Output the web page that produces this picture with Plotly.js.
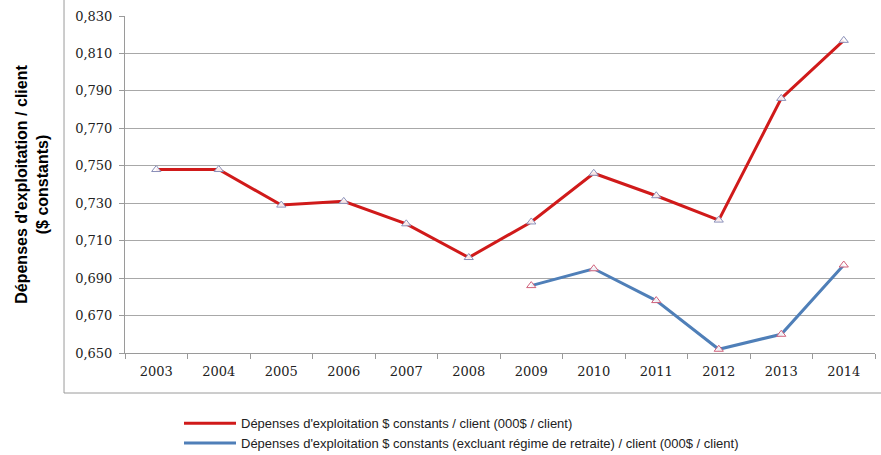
<!DOCTYPE html>
<html>
<head>
<meta charset="utf-8">
<script src="https://cdn.plot.ly/plotly-3.0.1.min.js"></script>
<style>html,body{margin:0;padding:0;background:#fff;}#chart{width:881px;height:455px;}</style>
</head>
<body>
<div id="chart"></div>
<script>
const years = ['2003','2004','2005','2006','2007','2008','2009','2010','2011','2012','2013','2014'];
const depensesTotal = [0.748, 0.748, 0.729, 0.731, 0.719, 0.701, 0.720, 0.746, 0.734, 0.721, 0.786, 0.817];
const depensesHorsRetraite = [null, null, null, null, null, null, 0.686, 0.695, 0.678, 0.652, 0.660, 0.697];
const seriesNames = [
  "Dépenses d'exploitation $ constants / client (000$ / client)",
  "Dépenses d'exploitation $ constants (excluant régime de retraite) / client (000$ / client)"
];
const yTitle = "Dépenses d'exploitation / client<br>($ constants)";

const lineColors = ['#d01a1a', '#4f7fb8'];
const markerEdge = ['#8a8fb8', '#d0607a'];
const seriesData = [depensesTotal, depensesHorsRetraite];

const traces = [];
seriesData.forEach((vals, i) => {
  traces.push({
    x: years, y: vals, name: seriesNames[i], type: 'scatter', mode: 'lines',
    line: {color: lineColors[i], width: 3}, legendrank: i + 1
  });
});
seriesData.forEach((vals, i) => {
  traces.push({
    x: years, y: vals, name: seriesNames[i], type: 'scatter', mode: 'markers', showlegend: false,
    marker: {symbol: 'triangle-up', size: 8, color: 'rgba(255,255,255,0.9)', line: {color: markerEdge[i], width: 1}}
  });
});

const layout = {
  width: 881, height: 455,
  margin: {l: 125, r: 6, t: 16, b: 102, autoexpand: false},
  paper_bgcolor: '#fff', plot_bgcolor: '#fff',
  separators: ', ',
  showlegend: true,
  legend: {
    x: 0.072, y: -0.164, xanchor: 'left', yanchor: 'top',
    font: {family: 'Liberation Sans, Arial, sans-serif', size: 13, color: '#222'},
    itemwidth: 52, tracegroupgap: 0, bgcolor: 'rgba(0,0,0,0)'
  },
  xaxis: {
    type: 'category', range: [-0.5, 11.5],
    showline: true, linecolor: '#9a9a9a', linewidth: 1,
    ticks: 'outside', tickson: 'boundaries', ticklen: 5, tickcolor: '#9a9a9a',
    showgrid: false, ticklabelstandoff: 6,
    tickfont: {family: 'DejaVu Serif, serif', size: 13, color: '#222'}
  },
  yaxis: {
    range: [0.650, 0.830], tick0: 0.65, dtick: 0.02, tickformat: '.3f',
    showline: true, linecolor: '#9a9a9a', linewidth: 1,
    ticks: 'outside', ticklen: 5, tickcolor: '#9a9a9a',
    showgrid: true, gridcolor: '#a8a8a8', gridwidth: 1, zeroline: false,
    ticklabelstandoff: 4,
    tickfont: {family: 'DejaVu Serif, serif', size: 13, color: '#222'},
    title: {text: yTitle, standoff: 22, font: {family: 'Liberation Sans, Arial, sans-serif', size: 16, color: '#000', weight: 'bold'}}
  },
  shapes: [
    {type: 'line', xref: 'paper', yref: 'paper', x0: -0.0813, x1: -0.0813, y0: -0.1187, y1: 1.06, line: {color: '#9a9a9a', width: 1}},
    {type: 'line', xref: 'paper', yref: 'paper', x0: -0.0813, x1: 1.01, y0: -0.1187, y1: -0.1187, line: {color: '#9a9a9a', width: 1}}
  ]
};

Plotly.newPlot('chart', traces, layout, {displayModeBar: false, staticPlot: true});
</script>
</body>
</html>
